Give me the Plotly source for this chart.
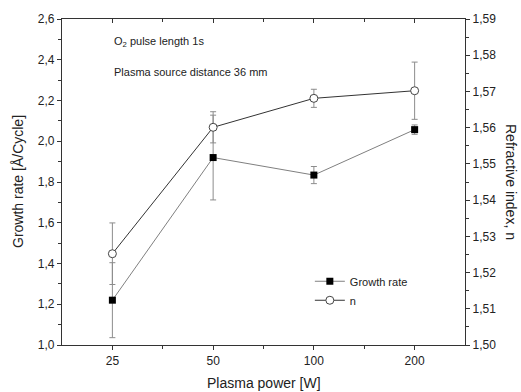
import plotly.graph_objects as go

power_labels = ["25", "50", "100", "200"]
growth_rate = [1.22, 1.92, 1.834, 2.057]
growth_err = [0.184, 0.208, 0.042, 0.023]
n_index = [1.5252, 1.5601, 1.5681, 1.5702]
n_err = [0.0085, 0.0043, 0.0025, 0.0079]

left_ticks = [1.0, 1.2, 1.4, 1.6, 1.8, 2.0, 2.2, 2.4, 2.6]
right_ticks = [1.50, 1.51, 1.52, 1.53, 1.54, 1.55, 1.56, 1.57, 1.58, 1.59]

xpos = list(range(len(power_labels)))
FONT = "Liberation Sans, Arial, sans-serif"

fig = go.Figure()
fig.add_trace(go.Scatter(
    x=xpos, y=growth_rate, name="Growth rate", mode="lines+markers",
    line=dict(color="#808080", width=1),
    marker=dict(symbol="square", size=7, color="black", line=dict(color="black", width=0)),
    error_y=dict(type="data", array=growth_err, color="#8c8c8c", thickness=1, width=3),
    xaxis="x", yaxis="y",
))
fig.add_trace(go.Scatter(
    x=xpos, y=n_index, name="n", mode="lines+markers",
    line=dict(color="#333333", width=1),
    marker=dict(symbol="circle", size=8, color="white", line=dict(color="#444444", width=1)),
    error_y=dict(type="data", array=n_err, color="#8c8c8c", thickness=1, width=3),
    xaxis="x2", yaxis="y2",
))

axis_common = dict(showline=True, linecolor="#333333", linewidth=1.2, showgrid=False,
                   zeroline=False, tickcolor="#333333", tickfont=dict(family=FONT, size=12, color="#222"))

fig.update_layout(
    width=521, height=392,
    margin=dict(l=62, r=56, t=17, b=47),
    paper_bgcolor="white", plot_bgcolor="white",
    separators=",.",
    font=dict(family=FONT, color="#222"),
    xaxis=dict(**axis_common, range=[-0.5, 3.5], tickmode="array", tickvals=xpos,
               ticktext=power_labels, ticks="outside", ticklen=4,
               minor=dict(tickmode="array", tickvals=[0.5, 1.5, 2.5], ticks="outside",
                          ticklen=3, tickcolor="#333333")),
    xaxis2=dict(**axis_common, range=[-0.5, 3.5], overlaying="x", side="top",
                tickmode="array", tickvals=xpos, ticks="inside", ticklen=4,
                showticklabels=False,
                minor=dict(tickmode="array", tickvals=[0.5, 1.5, 2.5], ticks="inside",
                           ticklen=3, tickcolor="#333333")),
    yaxis=dict(**axis_common, range=[1.0, 2.6], tickmode="array", tickvals=left_ticks,
               tickformat=".1f", ticks="outside", ticklen=4,
               minor=dict(dtick=0.1, tick0=1.0, ticks="outside", ticklen=3, tickcolor="#333333")),
    yaxis2=dict(**axis_common, range=[1.50, 1.59], overlaying="y", side="right",
                tickmode="array", tickvals=right_ticks, tickformat=".2f",
                ticks="outside", ticklen=4, anchor="x2",
                minor=dict(dtick=0.005, tick0=1.5, ticks="outside", ticklen=3, tickcolor="#333333")),
    showlegend=True,
    legend=dict(x=0.615, y=0.24, xanchor="left", yanchor="top", bgcolor="rgba(0,0,0,0)",
                font=dict(family=FONT, size=11, color="#222"), tracegroupgap=0,
                itemwidth=30),
    annotations=[
        dict(text="O<sub>2</sub> pulse length 1s", xref="paper", yref="paper",
             x=0.125, y=0.93, xanchor="left", yanchor="middle", showarrow=False,
             font=dict(family=FONT, size=11, color="#222")),
        dict(text="Plasma source distance 36 mm", xref="paper", yref="paper",
             x=0.125, y=0.836, xanchor="left", yanchor="middle", showarrow=False,
             font=dict(family=FONT, size=11, color="#222")),
        dict(text="Growth rate [Å/Cycle]", xref="paper", yref="paper",
             x=0, y=0.5, xshift=-44, xanchor="center", yanchor="middle", textangle=-90,
             showarrow=False, font=dict(family=FONT, size=14, color="#222")),
        dict(text="Refractive index, n", xref="paper", yref="paper",
             x=1, y=0.5, xshift=46, xanchor="center", yanchor="middle", textangle=90,
             showarrow=False, font=dict(family=FONT, size=14, color="#222")),
        dict(text="Plasma power [W]", xref="paper", yref="paper",
             x=0.5, y=0, yshift=-38, xanchor="center", yanchor="middle",
             showarrow=False, font=dict(family=FONT, size=14, color="#222")),
    ],
)

fig.write_html("out.html", config={"displayModeBar": False},
               post_script="document.body.style.margin='0';document.body.style.padding='0';document.body.style.overflow='hidden';")
